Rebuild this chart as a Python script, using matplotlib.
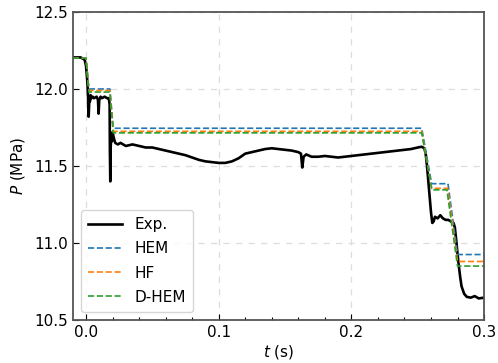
import numpy as np
import matplotlib.pyplot as plt

# Measured pressure trace (t in s, P in MPa)
t_exp = [-0.010, -0.004, -0.001, 0.000, 0.001, 0.0015, 0.002, 0.0025, 0.003, 0.0035,
         0.004, 0.005, 0.006, 0.008, 0.009, 0.0095, 0.010, 0.011, 0.012, 0.014, 0.016,
         0.0172, 0.0178, 0.0180, 0.0183, 0.0186, 0.019, 0.0195, 0.020, 0.021, 0.022,
         0.024, 0.026, 0.030, 0.035, 0.040, 0.045, 0.050, 0.055, 0.060, 0.065, 0.070,
         0.075, 0.080, 0.085, 0.090, 0.095, 0.100, 0.105, 0.110, 0.115, 0.120, 0.125,
         0.130, 0.135, 0.140, 0.145, 0.150, 0.155, 0.160, 0.162, 0.163, 0.164, 0.166,
         0.170, 0.175, 0.180, 0.185, 0.190, 0.195, 0.200, 0.205, 0.210, 0.215, 0.220,
         0.225, 0.230, 0.235, 0.240, 0.245, 0.250, 0.253, 0.255, 0.256, 0.257, 0.258,
         0.259, 0.260, 0.261, 0.262, 0.263, 0.265, 0.267, 0.269, 0.271, 0.273, 0.275,
         0.277, 0.278, 0.279, 0.280, 0.281, 0.282, 0.283, 0.285, 0.287, 0.290, 0.293,
         0.296, 0.300]
p_exp = [12.205, 12.205, 12.19, 12.15, 12.05, 11.96, 11.82, 11.93, 11.92, 11.96,
         11.94, 11.95, 11.94, 11.95, 11.93, 11.84, 11.93, 11.95, 11.94, 11.95, 11.94,
         11.94, 11.90, 11.60, 11.40, 11.62, 11.70, 11.66, 11.72, 11.68, 11.65,
         11.64, 11.65, 11.63, 11.64, 11.63, 11.62, 11.62, 11.61, 11.60, 11.59, 11.58,
         11.57, 11.555, 11.54, 11.53, 11.525, 11.52, 11.52, 11.53, 11.55, 11.58, 11.59,
         11.60, 11.61, 11.615, 11.61, 11.605, 11.60, 11.59, 11.58, 11.49, 11.56, 11.575,
         11.56, 11.56, 11.565, 11.56, 11.555, 11.56, 11.565, 11.57, 11.575, 11.58, 11.585,
         11.59, 11.595, 11.60, 11.605, 11.61, 11.62, 11.625, 11.615, 11.58, 11.50, 11.40,
         11.30, 11.20, 11.13, 11.14, 11.17, 11.16, 11.18, 11.16, 11.15, 11.15, 11.14,
         11.13, 11.10, 11.02, 10.93, 10.85, 10.78, 10.72, 10.67, 10.65, 10.645, 10.655,
         10.64, 10.645]

# Model predictions (step-wise pressure levels)
t_hem = [-0.010, 0.000, 0.0022, 0.0180, 0.0205, 0.2530, 0.2605, 0.2728, 0.2800, 0.300]
p_hem = [12.200, 12.200, 12.000, 12.000, 11.745, 11.745, 11.385, 11.385, 10.925, 10.925]

t_hf = [-0.010, 0.000, 0.0022, 0.0180, 0.0205, 0.2530, 0.2605, 0.2725, 0.2800, 0.300]
p_hf = [12.200, 12.200, 11.990, 11.990, 11.725, 11.725, 11.355, 11.355, 10.880, 10.880]

t_dhem = [-0.010, 0.000, 0.0022, 0.0180, 0.0205, 0.2530, 0.2607, 0.2720, 0.2800, 0.300]
p_dhem = [12.200, 12.200, 11.980, 11.980, 11.715, 11.715, 11.345, 11.345, 10.850, 10.850]

fig = plt.figure(figsize=(4.98, 3.63), dpi=100)
ax = fig.add_axes([0.1466, 0.1185, 0.8254, 0.8485])

ax.plot(t_exp, p_exp, color='black', lw=1.9, label='Exp.')
ax.plot(t_hem, p_hem, '--', color='tab:blue', lw=1.2, label='HEM')
ax.plot(t_hf, p_hf, '--', color='tab:orange', lw=1.2, label='HF')
ax.plot(t_dhem, p_dhem, '--', color='tab:green', lw=1.2, label='D-HEM')

ax.set_xlim(-0.0098, 0.3)
ax.set_ylim(10.5, 12.5)
ax.set_xticks([0.0, 0.1, 0.2, 0.3])
ax.set_xticks(np.arange(0.0, 0.3001, 0.02), minor=True)
ax.set_yticks([10.5, 11.0, 11.5, 12.0, 12.5])
ax.xaxis.set_major_formatter(plt.FormatStrFormatter('%.1f'))
ax.yaxis.set_major_formatter(plt.FormatStrFormatter('%.1f'))
ax.tick_params(direction='in', labelsize=11, length=4, width=0.8)
ax.tick_params(which='minor', direction='in', length=2.5, width=0.8)
ax.grid(True, which='major', ls=(0, (5, 5)), color='#dddddd', lw=0.9)

for s in ax.spines.values():
    s.set_color('#555555')
    s.set_linewidth(1.3)

ax.set_xlabel('$t$ (s)', fontsize=11, labelpad=2)
ax.set_ylabel('$P$ (MPa)', fontsize=11, labelpad=5)

ax.legend(loc='lower left', fontsize=11, handlelength=2.2, borderpad=0.5,
          labelspacing=0.6, framealpha=0.8, fancybox=True)

fig.savefig('out.png', dpi=100)
